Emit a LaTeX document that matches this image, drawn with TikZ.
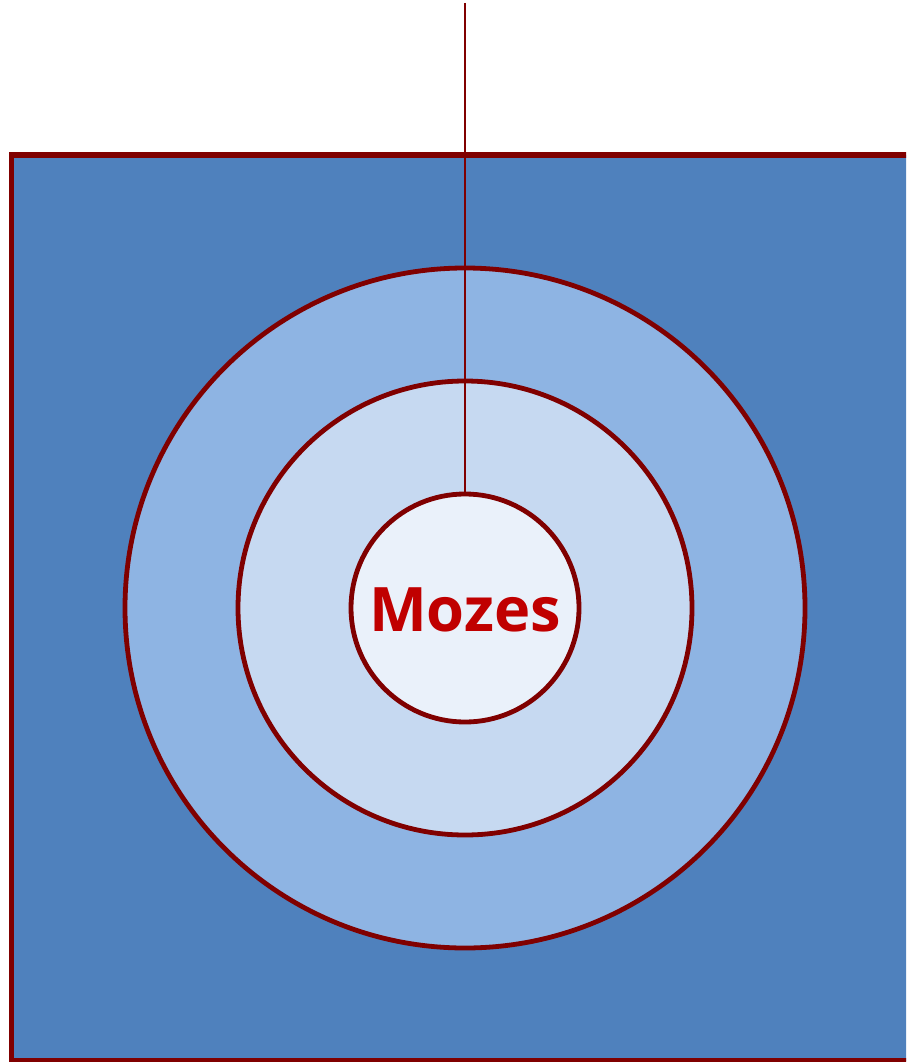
\documentclass[tikz,border=0pt]{standalone}
\usepackage{fontspec}
\setmainfont{Open Sans}
\usepackage{tikz}
\usetikzlibrary{positioning}
\definecolor{MzBlue}{RGB}{79,129,189}
\definecolor{MzRing}{RGB}{142,180,227}
\definecolor{MzMid}{RGB}{198,217,241}
\definecolor{MzCore}{RGB}{234,241,250}
\definecolor{MzEdge}{RGB}{128,0,0}
\definecolor{MzText}{RGB}{192,0,0}

\begin{document}
\begin{tikzpicture}[x=0.75pt, y=-0.75pt,
          ring/.style={circle, draw=MzEdge, line width=3.6pt, inner sep=0pt},
          lbl/.style={font=\fontsize{46}{54}\selectfont\bfseries, text=MzText}
        ]
        \useasboundingbox (0,0) rectangle (906,1062);
        \clip (0,0) rectangle (906,1062);

        % background square (runs past the right edge)
        \draw[fill=MzBlue, draw=MzEdge, line width=4.2pt]
              (11.5,155) rectangle (930,1061);

        % nested circles
        \node[ring, fill=MzRing, minimum size=510pt] (outer) at (465,608) {};
        \node[ring, fill=MzMid, minimum size=340.5pt] (middle) at (465,608) {};
        \node[ring, fill=MzCore, minimum size=171pt] (core) at (465,608) {};
        \node[lbl] (name) at (465,610) {Mozes};

        % thread from the top
        \coordinate (top) at (465,3);
        \draw[MzEdge, line width=1.5pt] (top) -- (core.north);
      \end{tikzpicture}
\end{document}
